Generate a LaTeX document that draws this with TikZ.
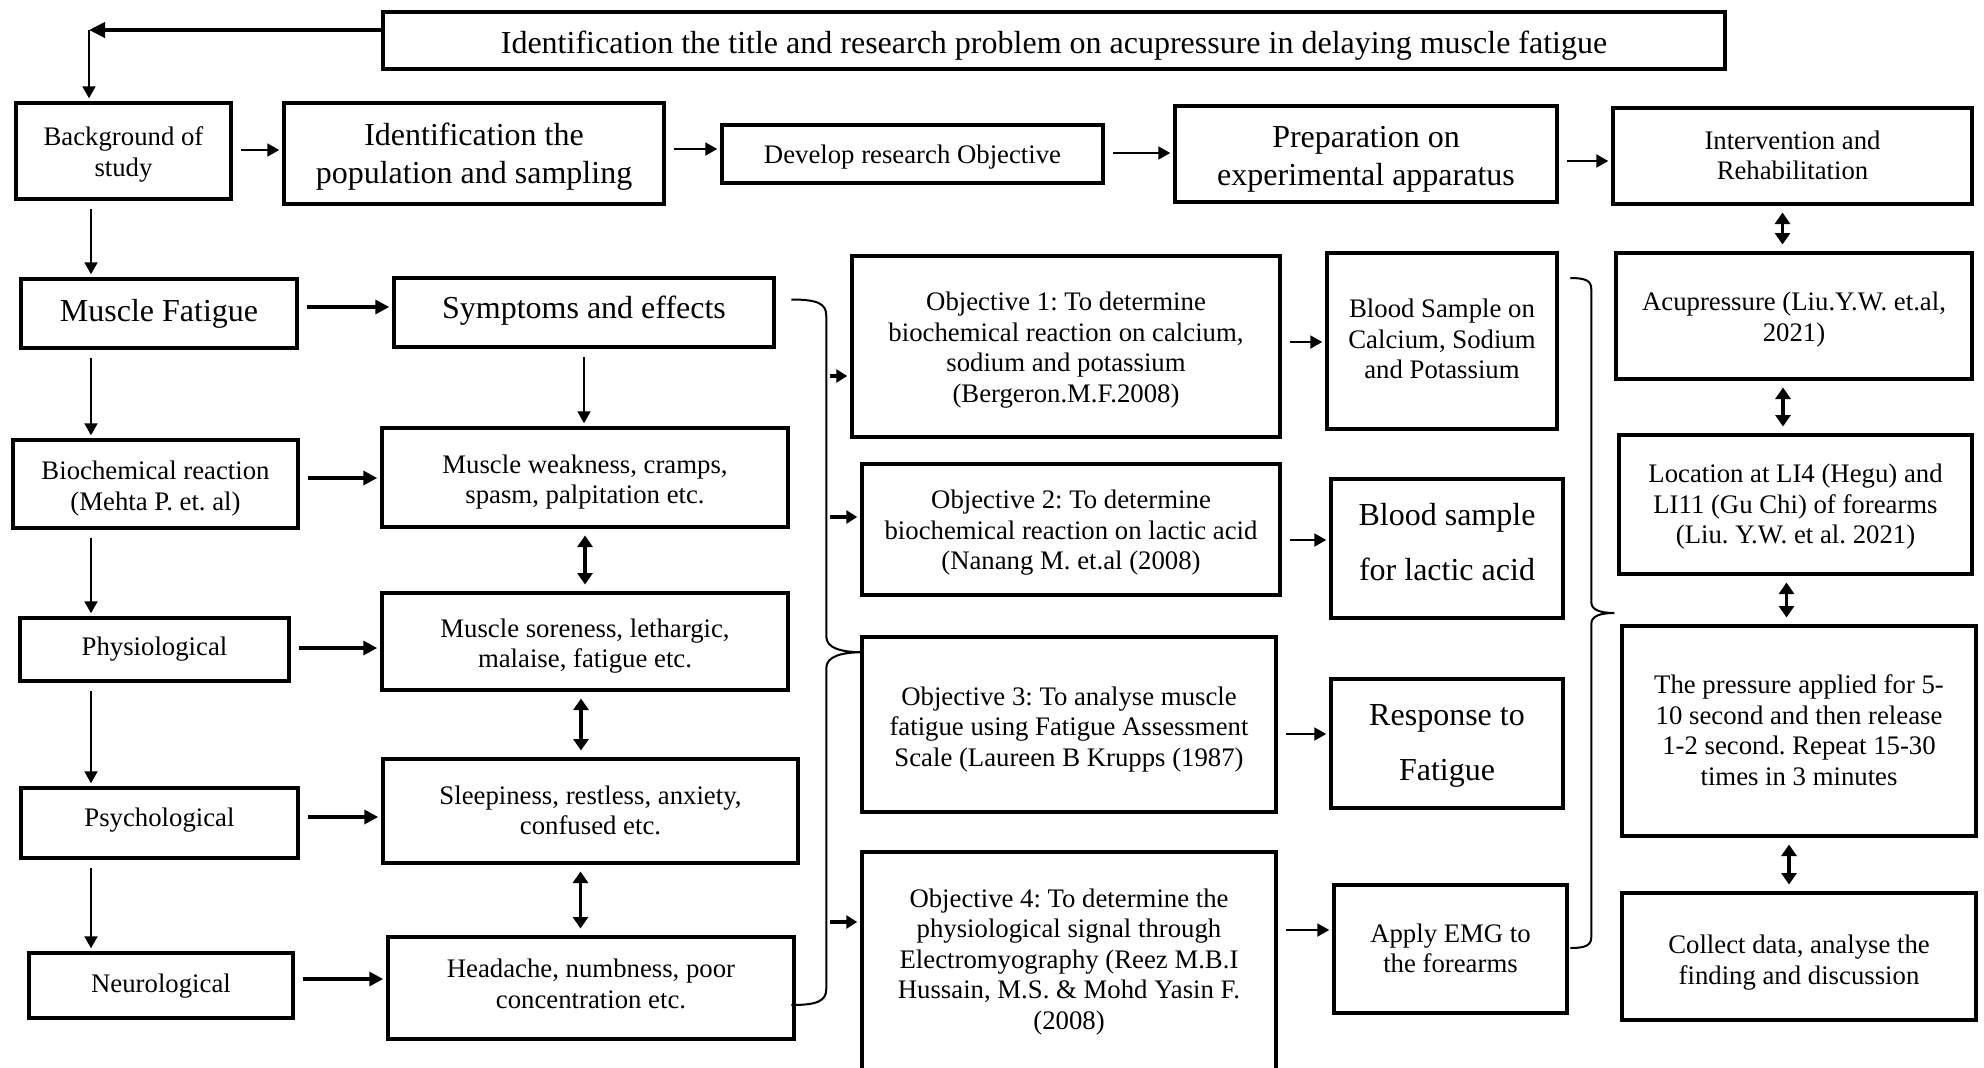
\documentclass[tikz,border=0pt]{standalone}
\usepackage{fontspec}
\setmainfont{Liberation Serif}
\usetikzlibrary{arrows.meta,calc}
\frenchspacing
\newcommand{\shifttext}[2]{\raisebox{-#1}[\height][\depth]{\begin{tabular}{@{}c@{}}#2\end{tabular}}}
\tikzstyle{box}=[draw, line width=1.8pt, align=center, inner sep=1pt]
\tikzstyle{smalltext}=[font=\fontsize{10.7}{12.2}\selectfont]
\tikzstyle{bigtext}=[font=\fontsize{12.8}{15.2}\selectfont]
\tikzstyle{widetext}=[font=\fontsize{12.8}{22}\selectfont]
\tikzstyle{edge}=[draw, line width=0.8pt, ->, >={Triangle[length=4.8pt,width=5.2pt]}, shorten <=3pt, shorten >=1pt]
\tikzstyle{heavyedge}=[draw, line width=1.4pt, ->, >={Triangle[length=5.6pt,width=5.6pt]}, shorten <=3pt, shorten >=1pt]
\tikzstyle{titleedge}=[draw, line width=1.7pt, ->, >={Triangle[length=6.4pt,width=6pt]}]
\tikzstyle{twoway}=[draw, line width=1.3pt, <->, >={Triangle[length=4.6pt,width=6pt]}, shorten <=2.5pt, shorten >=2.5pt]
\tikzstyle{stub}=[draw, line width=1.4pt, ->, >={Triangle[length=4.4pt,width=5.2pt]}, shorten >=1pt]
\tikzstyle{bracket}=[draw, line width=0.8pt]
\begin{document}
\begin{tikzpicture}[x=0.4pt, y=-0.4pt]
    \def\px{0.4pt}
    \useasboundingbox (0,0) rectangle (1984,1067);

    % First we draw the boxes in the smaller type
    \foreach \pos/\name/\w/\h/\dy/\label in {
      {(123.5,151)/bg/215/96/1.5pt/{Background of\\study}},
      {(912.5,154)/dev/381/58/1.5pt/{Develop research Objective}},
      {(1792.5,156)/interv/359/96/1pt/{Intervention and\\Rehabilitation}},
      {(155.5,484)/bio/285/88/2pt/{Biochemical reaction\\(Mehta P. et. al)}},
      {(585,477.5)/weak/406/99/2pt/{Muscle weakness, cramps,\\spasm, palpitation etc.}},
      {(154.5,649.5)/phys/269/63/0pt/{Physiological}},
      {(585,641.5)/sore/406/97/2pt/{Muscle soreness, lethargic,\\malaise, fatigue etc.}},
      {(159.5,823)/psy/277/70/-1pt/{Psychological}},
      {(590.5,811)/sleep/415/104/1pt/{Sleepiness, restless, anxiety,\\confused etc.}},
      {(161,985.5)/neuro/264/65/0.5pt/{Neurological}},
      {(591,988)/head/406/102/-0.5pt/{Headache, numbness, poor\\concentration etc.}},
      {(1066,346.5)/obj1/428/181/1.5pt/{Objective 1: To determine\\biochemical reaction on calcium,\\sodium and potassium\\(Bergeron.M.F.2008)}},
      {(1071,529.5)/obj2/418/131/1.5pt/{Objective 2: To determine\\biochemical reaction on lactic acid\\(Nanang M. et.al (2008)}},
      {(1069,724.5)/obj3/414/175/2pt/{Objective 3: To analyse muscle\\fatigue using Fatigue Assessment\\Scale (Laureen B Krupps (1987)}},
      {(1069,961)/obj4/414/218/0.5pt/{Objective 4: To determine the\\physiological signal through\\Electromyography (Reez M.B.I\\Hussain, M.S. \& Mohd Yasin F.\\(2008)}},
      {(1442,341)/bcal/230/176/0.5pt/{Blood Sample on\\Calcium, Sodium\\and Potassium}},
      {(1450.5,949)/emg/233/128/1pt/{Apply EMG to\\the forearms}},
      {(1794,316)/acu/356/126/1.5pt/{Acupressure (Liu.Y.W. et.al,\\2021)}},
      {(1795.5,504.5)/loc/353/139/1pt/{Location at LI4 (Hegu) and\\LI11 (Gu Chi) of forearms\\(Liu. Y.W. et al. 2021)}},
      {(1799,731)/pres/354/210/1pt/{The pressure applied for 5-\\10 second and then release\\1-2 second. Repeat 15-30\\times in 3 minutes}},
      {(1799,956.5)/coll/354/127/2.5pt/{Collect data, analyse the\\finding and discussion}}}
        \node[box, smalltext, minimum width=\w*\px, minimum height=\h*\px] (\name) at \pos {\shifttext{\dy}{\label}};

    % Then the boxes in the larger type
    \foreach \pos/\name/\w/\h/\dy/\label in {
      {(1054,40.5)/title/1342/57/2pt/{Identification the title and research problem on acupressure in delaying muscle fatigue}},
      {(474,153.5)/pop/380/101/1.5pt/{Identification the\\population and sampling}},
      {(1366,154)/prep/382/96/2pt/{Preparation on\\experimental apparatus}},
      {(159,313.5)/mf/276/69/0pt/{Muscle Fatigue}},
      {(584,312.5)/sym/380/69/-0.5pt/{Symptoms and effects}}}
        \node[box, bigtext, minimum width=\w*\px, minimum height=\h*\px] (\name) at \pos {\shifttext{\dy}{\label}};
    \foreach \pos/\name/\w/\h/\dy/\label in {
      {(1447,548.5)/blac/232/139/-2.5pt/{Blood sample\\for lactic acid}},
      {(1447,743.5)/resp/232/129/-0.7pt/{Response to\\Fatigue}}}
        \node[box, widetext, minimum width=\w*\px, minimum height=\h*\px] (\name) at \pos {\shifttext{\dy}{\label}};

    % Title arrow back to the start
    \coordinate (turn) at (89,30);
    \path[titleedge] (title.west |- turn) -- (turn);
    \path[edge, shorten <=0pt] (turn) -- (turn |- bg.north);

    % Left to right arrows
    \foreach \source/\dest/\y in {bg/pop/150, pop/dev/149, dev/prep/153, prep/interv/161, obj1/bcal/342, obj2/blac/540, obj3/resp/734, obj4/emg/930}
        \path[edge] (\source.east |- 0,\y) -- (\dest.west |- 0,\y);
    \foreach \source/\dest/\y in {mf/sym/307, bio/weak/478, phys/sore/648, psy/sleep/817, neuro/head/979}
        \path[heavyedge] (\source.east |- 0,\y) -- (\dest.west |- 0,\y);

    % Down the left column
    \coordinate (lane) at (91,0);
    \foreach \source/\dest in {bg/mf, mf/bio, bio/phys, phys/psy, psy/neuro}
        \path[edge] (\source.south -| lane) -- (\dest.north -| lane);
    \path[edge] (sym.south) -- (sym.south |- weak.north);

    % Two-way arrows
    \foreach \source/\dest/\dx in {weak/sore/0, sore/sleep/-4, sleep/head/-10, interv/acu/-10, acu/loc/-11, loc/pres/-9, pres/coll/-10}
        \path[twoway] ([xshift=\dx*\px]\source.south) -- ([xshift=\dx*\px]\source.south |- \dest.north);

    % Short arrows into the objectives
    \foreach \dest/\y in {obj1/376, obj2/517, obj4/922} {
        \coordinate (in\dest) at (830,\y);
        \path[stub] (in\dest) -- (in\dest -| \dest.west);
    }

    % Braces
    \coordinate (lb1) at ([shift={(15,-13)}]sym.east);
    \coordinate (lb2) at ([shift={(-5,17)}]head.east);
    \coordinate (lbtip) at ($(lb1)!0.5!(lb2)+(72,0)$);
    \path[bracket] (lb1) .. controls +(26,0) and +(0,-12) .. ($(lb1)+(35,16)$)
        -- ($(lbtip)+(-37,-16)$) .. controls +(0,12) and +(-22,0) .. (lbtip)
        .. controls +(-22,0) and +(0,-12) .. ($(lbtip)+(-37,16)$)
        -- ($(lb2)+(35,-16)$) .. controls +(0,12) and +(26,0) .. (lb2);

    \coordinate (rb1) at ([shift={(11,-63)}]bcal.east);
    \coordinate (rb2) at ([shift={(1,-1)}]emg.east);
    \coordinate (rbtip) at ($(rb1)!0.5!(rb2)+(44,0)$);
    \path[bracket] (rb1) .. controls +(16,0) and +(0,-8) .. ($(rb1)+(21,11)$)
        -- ($(rbtip)+(-23,-11)$) .. controls +(0,8) and +(-14,0) .. (rbtip)
        .. controls +(-14,0) and +(0,-8) .. ($(rbtip)+(-23,11)$)
        -- ($(rb2)+(21,-11)$) .. controls +(0,8) and +(16,0) .. (rb2);

\end{tikzpicture}
\end{document}
